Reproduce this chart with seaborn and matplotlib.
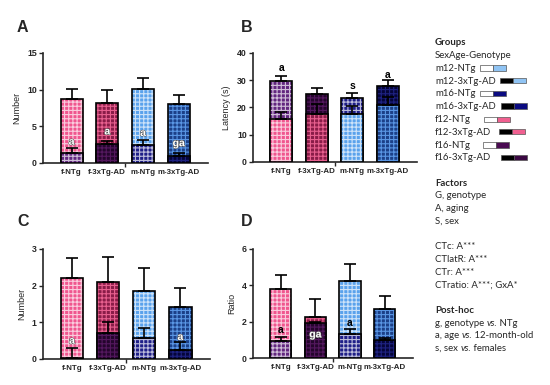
import numpy as np
import pandas as pd
import matplotlib
matplotlib.use("Agg")
import matplotlib.pyplot as plt
import matplotlib.patheffects as pe
import seaborn as sns
from matplotlib.patches import Rectangle

# ---------------- data ----------------
cats = ["f-NTg", "f-3xTg-AD", "m-NTg", "m-3xTg-AD"]

A12 = [8.7, 8.15, 10.1, 8.0]
A12_err = [1.35, 1.75, 1.45, 1.25]
A16 = [1.4, 2.55, 2.5, 0.95]
A16_err = [0.6, 0.5, 0.7, 0.35]

B12 = [15.8, 17.6, 17.5, 20.9]
B12_err = [2.7, 3.6, 3.0, 3.1]
B16 = [29.7, 24.8, 23.6, 28.0]
B16_err = [1.9, 2.5, 1.8, 2.1]

C12 = [2.2, 2.09, 1.86, 1.43]
C12_err = [0.55, 0.68, 0.61, 0.5]
C16 = [0.04, 0.72, 0.56, 0.25]
C16_err = [0.27, 0.30, 0.29, 0.22]

D12 = [3.78, 2.27, 4.25, 2.7]
D12_err = [0.77, 0.96, 0.9, 0.71]
D16 = [0.94, 1.9, 1.3, 0.99]
D16_err = [0.23, 0.08, 0.28, 0.12]

A_labels = [("a", 0, 2.9, "white"), ("a", 1, 4.3, "white"), ("a", 2, 4.1, "white"), ("ga", 3, 2.7, "white")]
B_labels = [("a", 0, 34.4, "black"), ("s", 2, 27.9, "black"), ("a", 3, 31.9, "black")]
C_labels = [("a", 0, 0.5, "white"), ("a", 3, 0.6, "white")]
D_labels = [("a", 0, 1.55, "black"), ("ga", 1, 1.3, "white"), ("a", 2, 1.95, "black")]

# (face, hatch colour) per category / age
STYLE = {
    ("f-NTg", "12"): ("#f0568f", (1, 1, 1, 0.7)),
    ("f-3xTg-AD", "12"): ("#8a1c48", "#e8608f"),
    ("m-NTg", "12"): ("#5aa2ec", (1, 1, 1, 0.7)),
    ("m-3xTg-AD", "12"): ("#1c4088", "#5a96e4"),
    ("f-NTg", "16"): ("#62267f", (1, 1, 1, 0.7)),
    ("f-3xTg-AD", "16"): ("#24052c", "#54185e"),
    ("m-NTg", "16"): ("#1e1e88", (1, 1, 1, 0.7)),
    ("m-3xTg-AD", "16"): ("#05053a", "#1e2280"),
}

sns.set_theme(style="ticks")
plt.rcParams["font.family"] = ["Liberation Sans", "DejaVu Sans"]
plt.rcParams["hatch.linewidth"] = 0.8

fig = plt.figure(figsize=(5.5, 3.85), dpi=100)


def panel(rect, v12, e12, v16, e16, ymax, yticks, ylabel, labels):
    ax = fig.add_axes(rect)
    rows = []
    for i, c in enumerate(cats):
        a = (c, "12", v12[i], e12[i])
        b = (c, "16", v16[i], e16[i])
        back, front = (a, b) if v12[i] >= v16[i] else (b, a)
        rows.append(back + ("back",))
        rows.append(front + ("front",))
    df = pd.DataFrame(rows, columns=["group", "age", "val", "err", "layer"])
    for layer, z in [("back", 2), ("front", 5)]:
        d = df[df.layer == layer].set_index("group").loc[cats].reset_index()
        pal = {g: STYLE[(g, a)][0] for g, a in zip(d.group, d.age)}
        n0 = len(ax.patches)
        sns.barplot(data=d, x="group", y="val", hue="group", order=cats, hue_order=cats,
                    palette=pal, width=0.62, errorbar=None, legend=False,
                    saturation=1, ax=ax, zorder=z)
        for p in list(ax.patches[n0:]):
            i = int(round(p.get_x() + p.get_width() / 2))
            face, hc = STYLE[(d.group.iloc[i], d.age.iloc[i])]
            p.set_facecolor(face)
            p.set_edgecolor(hc)
            p.set_hatch("++++")
            p.set_linewidth(0)
            ax.add_patch(Rectangle(p.get_xy(), p.get_width(), p.get_height(),
                                   fill=False, ec="black", lw=1.2, zorder=z + 0.5))
        ax.errorbar(np.arange(len(cats)), d.val, yerr=[np.zeros(len(cats)), d.err],
                    fmt="none", ecolor="black", elinewidth=1.2, capsize=4,
                    capthick=1.2, zorder=z + 1)
    for txt, xi, yv, col in labels:
        t = ax.text(xi, yv, txt, ha="center", va="center", fontsize=7.5,
                    fontweight="bold", color=col, zorder=10)
        if col == "white":
            t.set_path_effects([pe.withStroke(linewidth=0.8, foreground="#555555")])
    ax.set_xlim(-0.8, 3.82)
    ax.set_ylim(0, ymax)
    ax.set_yticks(yticks)
    ax.set_xticks(range(len(cats)))
    ax.set_xticklabels(cats, fontsize=5.7, fontweight="bold")
    ax.set_xticks([1.5], minor=True)
    ax.tick_params(axis="x", which="major", length=0, pad=4)
    ax.tick_params(axis="x", which="minor", length=3, width=1)
    ax.tick_params(axis="y", length=3, width=1, labelsize=6.3, pad=1.5)
    for t in ax.get_yticklabels():
        t.set_fontweight("bold")
    ax.set_xlabel("")
    ax.set_ylabel(ylabel, fontsize=6.5, labelpad=4)
    sns.despine(ax=ax)
    for s in ["left", "bottom"]:
        ax.spines[s].set_linewidth(1.2)
    return ax


W, H = 550, 385
def R(x0, y0, x1, y1):
    return [x0 / W, 1 - y1 / H, (x1 - x0) / W, (y1 - y0) / H]

panel(R(43, 53, 208, 163), A12, A12_err, A16, A16_err, 15, [0, 5, 10, 15], "Number", A_labels)
panel(R(253, 53, 417, 162), B12, B12_err, B16, B16_err, 40, [0, 10, 20, 30, 40], "Latency (s)", B_labels)
panel(R(43, 249, 210, 359), C12, C12_err, C16, C16_err, 3, [0, 1, 2, 3], "Number", C_labels)
panel(R(253, 249, 413, 358), D12, D12_err, D16, D16_err, 6, [0, 2, 4, 6], "Ratio", D_labels)

for letter, x, y in [("A", 17, 27), ("B", 241, 27), ("C", 17, 221), ("D", 241, 221)]:
    fig.text(x / W, 1 - y / H, letter, fontsize=11.5, fontweight="bold", va="center", ha="left")

# ---------------- right-hand text block ----------------
TF = ["Lato", "DejaVu Sans"]
FS = 6.9
X0 = 435


def line(y, s, bold=False):
    # y = approximate vertical centre of the lowercase letters, in pixels
    return fig.text(X0 / W, 1 - (y + 3) / H, s, fontsize=FS, family=TF,
                    fontweight="bold" if bold else "normal", va="baseline", ha="left")


line(42, "Groups", True)
line(55, "SexAge-Genotype")
legend_rows = [
    ("m12-NTg", 68, 480, "white", "#90c4f4"),
    ("m12-3xTg-AD", 80.5, 500, "black", "#90c4f4"),
    ("m16-NTg", 93.5, 480, "white", "#0a0a80"),
    ("m16-3xTg-AD", 106, 501, "black", "#0a0a80"),
    ("f12-NTg", 119.5, 484, "white", "#f06090"),
    ("f12-3xTg-AD", 132, 499, "black", "#f06090"),
    ("f16-NTg", 145, 483, "white", "#4a0a52"),
    ("f16-3xTg-AD", 157.5, 501, "black", "#3a0842"),
]
for name, y, xs, c1, c2 in legend_rows:
    line(y, name)
    for k, c in enumerate([c1, c2]):
        fig.patches.append(Rectangle(((xs + 13 * k) / W, 1 - (y + 2.5) / H), 13 / W, 5.5 / H,
                                     transform=fig.transFigure, fc=c, ec="#555555", lw=0.5))

line(183, "Factors", True)
line(195.5, "G, genotype")
line(208, "A, aging")
line(221, "S, sex")
line(246, "CTc: A***")
line(259, "CTlatR: A***")
line(272, "CTr: A***")
line(284.5, "CTratio: A***; GxA*")
line(310, "Post-hoc", True)

renderer = fig.canvas.get_renderer()


def rich(y, parts):
    x = X0
    for s, it in parts:
        t = fig.text(x / W, 1 - (y + 3) / H, s, fontsize=FS, family=TF,
                     style="italic" if it else "normal", va="baseline", ha="left")
        bb = t.get_window_extent(renderer)
        x = bb.x1


rich(322.5, [("g, genotype ", False), ("vs.", True), (" NTg", False)])
rich(335, [("a, age ", False), ("vs.", True), (" 12-month-old", False)])
rich(348, [("s, sex ", False), ("vs.", True), (" females", False)])

fig.savefig("out.png", dpi=100)
